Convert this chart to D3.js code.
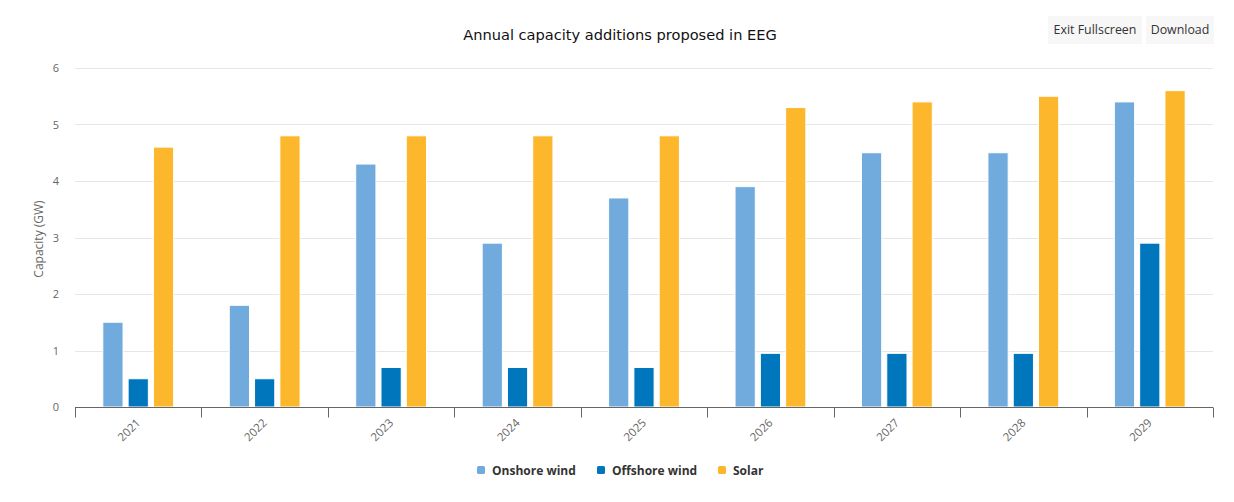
<!DOCTYPE html>
<html>
<head>
<meta charset="utf-8">
<script src="https://cdn.jsdelivr.net/npm/d3@7"></script>
<style>
  html, body { margin: 0; padding: 0; background: #fff; }
  svg { display: block; font-family: "Open Sans", "Noto Sans", sans-serif; }
</style>
</head>
<body>
<svg id="chart" width="1234" height="502"></svg>
<script>
const categories = ["2021", "2022", "2023", "2024", "2025", "2026", "2027", "2028", "2029"];
const seriesNames = ["Onshore wind", "Offshore wind", "Solar"];
const onshore = [1.5, 1.8, 4.3, 2.9, 3.7, 3.9, 4.5, 4.5, 5.4];
const offshore = [0.5, 0.5, 0.7, 0.7, 0.7, 0.95, 0.95, 0.95, 2.9];
const solar = [4.6, 4.8, 4.8, 4.8, 4.8, 5.3, 5.4, 5.5, 5.6];
const yTicks = [0, 1, 2, 3, 4, 5, 6];
const colors = ["#71AADD", "#0077BD", "#FDB72D"];
const title = "Annual capacity additions proposed in EEG";
const yTitle = "Capacity (GW)";

const seriesValues = [onshore, offshore, solar];
const svg = d3.select("#chart");
const m = { left: 75, right: 1213, top: 68, bottom: 407 };

const x0 = d3.scaleBand().domain(categories).range([m.left, m.right]).paddingInner(0).paddingOuter(0);
const groupPad = 0.2;
const x1 = d3.scaleBand().domain(seriesNames)
  .range([x0.bandwidth() * groupPad, x0.bandwidth() * (1 - groupPad)])
  .paddingInner(0.2).paddingOuter(0.1);
const y = d3.scaleLinear().domain([0, 6]).range([m.bottom, m.top]);

// Title
svg.append("text").attr("x", 620).attr("y", 40).attr("text-anchor", "middle")
  .attr("font-family", "DejaVu Sans, sans-serif")
  .attr("font-size", 14.6).attr("fill", "#111").text(title);

// Buttons
const buttons = [{ label: "Exit Fullscreen", x: 1048, w: 94 }, { label: "Download", x: 1146, w: 68 }];
buttons.forEach(b => {
  svg.append("rect").attr("x", b.x).attr("y", 16).attr("width", b.w).attr("height", 28).attr("fill", "#f7f7f7");
  svg.append("text").attr("x", b.x + b.w / 2).attr("y", 34).attr("text-anchor", "middle")
    .attr("font-size", 12.4).attr("fill", "#333").text(b.label);
});

// Gridlines
svg.append("g").selectAll("line").data(yTicks.filter(d => d > 0)).join("line")
  .attr("x1", m.left).attr("x2", m.right)
  .attr("y1", d => Math.round(y(d)) + 0.5).attr("y2", d => Math.round(y(d)) + 0.5)
  .attr("stroke", "#e6e6e6").attr("stroke-width", 1);

// Y axis labels
const yAxis = d3.axisLeft(y).tickValues(yTicks).tickSize(0).tickPadding(0).tickFormat(d3.format("d"));
const yg = svg.append("g").attr("transform", `translate(${m.left - 16},0)`).call(yAxis);
yg.select(".domain").remove();
yg.selectAll("text").attr("font-size", 11).attr("fill", "#666").attr("font-family", "Open Sans, sans-serif");

// Y axis title
svg.append("text").attr("transform", `translate(43,239) rotate(-90)`).attr("text-anchor", "middle")
  .attr("font-size", 12).attr("fill", "#666").text(yTitle);

// Bars
const groups = svg.append("g").selectAll("g").data(categories).join("g")
  .attr("transform", d => `translate(${x0(d)},0)`);
groups.selectAll("rect").data((d, i) => seriesNames.map((s, j) => ({ s, j, v: seriesValues[j][i] }))).join("rect")
  .attr("x", d => x1(d.s)).attr("width", x1.bandwidth())
  .attr("y", d => y(d.v)).attr("height", d => y(0) - y(d.v))
  .attr("fill", d => colors[d.j]).attr("stroke", "#fff").attr("stroke-width", 1);

// X axis
const xg = svg.append("g").attr("transform", `translate(0,${m.bottom + 0.5})`);
xg.append("line").attr("x1", m.left).attr("x2", m.right).attr("stroke", "#666").attr("stroke-width", 1);
const bounds = categories.map(c => x0(c)).concat([m.right]);
xg.selectAll("line.tick").data(bounds).join("line").attr("class", "tick")
  .attr("x1", d => Math.round(d) + 0.5).attr("x2", d => Math.round(d) + 0.5)
  .attr("y1", 0).attr("y2", 10).attr("stroke", "#666");
xg.selectAll("text").data(categories).join("text")
  .attr("transform", d => `translate(${x0(d) + x0.bandwidth() / 2 + 3},${16}) rotate(-45)`)
  .attr("text-anchor", "end").attr("font-size", 11.5).attr("fill", "#666").text(d => d);

// Legend
const legendItems = [{ x: 477 }, { x: 597 }, { x: 718 }];
const lg = svg.append("g");
seriesNames.forEach((s, i) => {
  const it = lg.append("g").attr("transform", `translate(${legendItems[i].x},470)`);
  it.append("rect").attr("x", 0).attr("y", -4).attr("width", 8).attr("height", 8).attr("rx", 1.5).attr("fill", colors[i]);
  it.append("text").attr("x", 15).attr("y", 4.5).attr("font-size", 12).attr("font-weight", "bold")
    .attr("fill", "#333").text(s);
});
</script>
</body>
</html>
